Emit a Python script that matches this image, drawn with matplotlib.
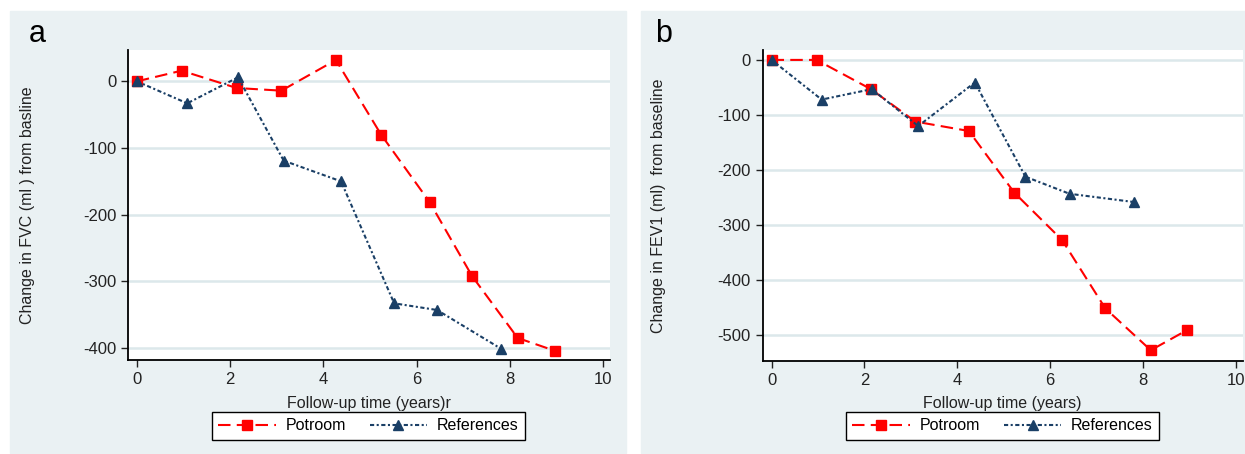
import matplotlib
matplotlib.use("Agg")
import matplotlib.pyplot as plt
from matplotlib.patches import Rectangle

plt.rcParams['font.family'] = ['Liberation Sans', 'DejaVu Sans']
plt.rcParams['axes.unicode_minus'] = False

# panel a: FVC
fvc_pot_x = [0, 0.96, 2.14, 3.10, 4.27, 5.24, 6.28, 7.19, 8.17, 8.96]
fvc_pot_y = [0, 16, -10, -14, 32, -80, -181, -292, -385, -404]
fvc_ref_x = [0, 1.08, 2.17, 3.15, 4.38, 5.52, 6.44, 7.81]
fvc_ref_y = [0, -33, 6, -119, -150, -333, -343, -401]

# panel b: FEV1
fev_pot_x = [0, 0.97, 2.14, 3.10, 4.25, 5.23, 6.26, 7.19, 8.17, 8.94]
fev_pot_y = [0, 0, -53, -112, -129, -241, -327, -451, -527, -491]
fev_ref_x = [0, 1.08, 2.16, 3.16, 4.38, 5.47, 6.42, 7.81]
fev_ref_y = [0, -72, -53, -120, -41, -212, -243, -258]

xticks = [0, 2, 4, 6, 8, 10]

BG = '#eaf1f3'
GRID = '#dce8eb'
RED = '#ff0000'
NAVY = '#1a3f66'

W, H = 1245, 454
fig = plt.figure(figsize=(W / 100, H / 100), dpi=100)
fig.patch.set_facecolor('white')
fig.patches.append(Rectangle((10 / W, 1 - 453 / H), 616 / W, 442 / H,
                             transform=fig.transFigure, color=BG, zorder=-10))
fig.patches.append(Rectangle((641 / W, 1 - 453 / H), 604 / W, 442 / H,
                             transform=fig.transFigure, color=BG, zorder=-10))


def panel(rect, px, py, rx, ry, yticks, ylim, xlabel, ylabel, ylab_x, letter, letter_x, leg_x):
    ax = fig.add_axes(rect)
    ax.set_facecolor('white')
    for s in ['top', 'right']:
        ax.spines[s].set_visible(False)
    for s in ['left', 'bottom']:
        ax.spines[s].set_linewidth(1.3)
    ax.plot(px, py, color=RED, lw=1.5, linestyle=(0, (6, 3)), marker='s',
            markersize=7, label='Potroom', zorder=3)
    ax.plot(rx, ry, color=NAVY, lw=1.5, linestyle=(0, (2, 1.2, 1, 1.2)), marker='^',
            markersize=7.5, label='References', zorder=3)
    ax.set_xlim(-0.19, 10.15)
    ax.set_ylim(*ylim)
    ax.set_xticks(xticks)
    ax.set_yticks(yticks)
    ax.tick_params(direction='out', length=5, width=1, labelsize=12, colors='#222222')
    ax.yaxis.grid(True, color=GRID, lw=1.8)
    ax.set_axisbelow(True)
    ax.set_xlabel(xlabel, fontsize=11.5, color='#222222')
    ax.xaxis.set_label_coords(0.5, -0.115)
    ax.set_ylabel(ylabel, fontsize=11.5, color='#222222')
    ax.yaxis.set_label_coords(ylab_x, 0.5)
    fig.text(letter_x, 1 - 42 / H, letter, fontsize=22, ha='left', va='baseline')
    leg = fig.legend(loc='center', bbox_to_anchor=(leg_x, 1 - 425.7 / H), ncol=2,
                     fontsize=11.5, frameon=True, fancybox=False, edgecolor='black',
                     facecolor='white', framealpha=1,
                     handlelength=3.6, handletextpad=0.6, columnspacing=1.5,
                     borderpad=0.4, handles=ax.get_lines())
    leg.get_frame().set_linewidth(1.0)
    return ax


panel([128 / W, 1 - 360 / H, 482 / W, 310 / H], fvc_pot_x, fvc_pot_y, fvc_ref_x, fvc_ref_y,
      [-400, -300, -200, -100, 0], (-418, 47), 'Follow-up time (years)r',
      'Change in FVC (ml ) from basline', -0.193, 'a', 29 / W, 368.4 / W)
panel([762.7 / W, 1 - 360.7 / H, 480 / W, 310.7 / H], fev_pot_x, fev_pot_y, fev_ref_x, fev_ref_y,
      [-500, -400, -300, -200, -100, 0], (-546, 18), 'Follow-up time (years)',
      'Change in FEV1 (ml)  from baseline', -0.201, 'b', 655 / W, 1002.5 / W)

fig.savefig('out.png', dpi=100)
